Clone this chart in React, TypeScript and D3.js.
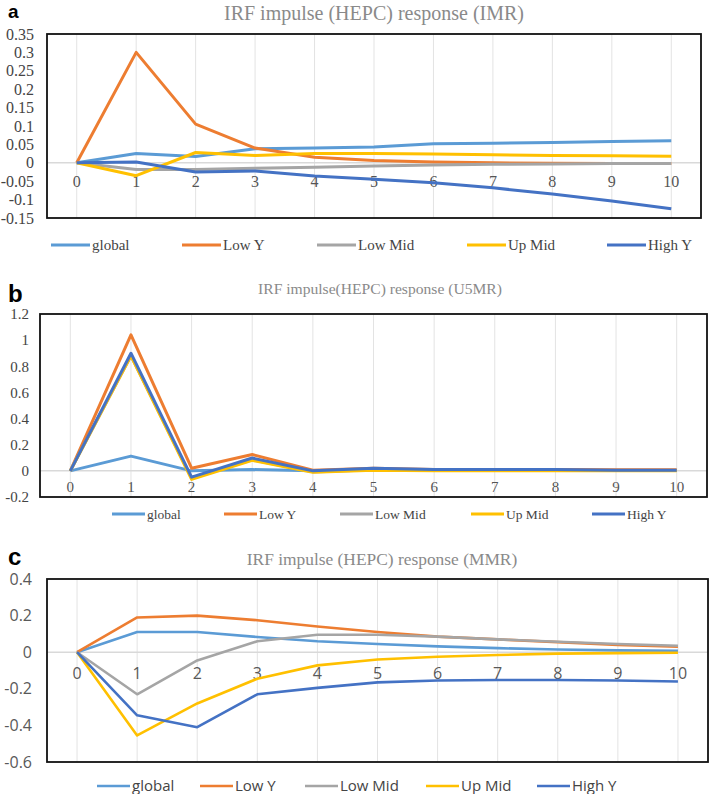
import React from "react";
import * as d3 from "d3";

const periods = ["0", "1", "2", "3", "4", "5", "6", "7", "8", "9", "10"];
const seriesNames = ["global", "Low Y", "Low Mid", "Up Mid", "High Y"];
const seriesColors = ["#5B9BD5", "#ED7D31", "#A5A5A5", "#FFC000", "#4472C4"];

// Panel a: IMR
const imrGlobal = [0, 0.025, 0.017, 0.038, 0.04, 0.043, 0.052, 0.053, 0.055, 0.058, 0.06];
const imrLowY = [0, 0.3, 0.105, 0.04, 0.015, 0.006, 0.002, 0, -0.001, -0.002, -0.002];
const imrLowMid = [0, -0.018, -0.018, -0.015, -0.012, -0.009, -0.006, -0.004, -0.003, -0.002, -0.002];
const imrUpMid = [0, -0.035, 0.028, 0.02, 0.025, 0.025, 0.024, 0.022, 0.02, 0.019, 0.018];
const imrHighY = [0, 0.002, -0.025, -0.022, -0.036, -0.045, -0.054, -0.068, -0.085, -0.104, -0.125];
const imrTicks = [0.35, 0.3, 0.25, 0.2, 0.15, 0.1, 0.05, 0, -0.05, -0.1, -0.15];

// Panel b: U5MR
const u5Global = [0, 0.113, 0.0, 0.01, 0.0, 0.005, 0.003, 0.003, 0.002, 0.002, 0.002];
const u5LowY = [0, 1.04, 0.02, 0.125, 0.005, 0.02, 0.01, 0.01, 0.01, 0.008, 0.008];
const u5LowMid = [0, 0.88, -0.055, 0.085, -0.008, 0.008, 0.003, 0.003, 0.003, 0.002, 0.002];
const u5UpMid = [0, 0.88, -0.065, 0.08, -0.01, 0.005, 0.0, 0.0, 0.0, 0.0, 0.0];
const u5HighY = [0, 0.9, -0.048, 0.098, 0.0, 0.02, 0.01, 0.01, 0.01, 0.005, 0.005];
const u5Ticks = [1.2, 1, 0.8, 0.6, 0.4, 0.2, 0, -0.2];

// Panel c: MMR
const mmrGlobal = [0, 0.11, 0.11, 0.083, 0.06, 0.045, 0.032, 0.022, 0.015, 0.01, 0.008];
const mmrLowY = [0, 0.19, 0.2, 0.175, 0.14, 0.11, 0.085, 0.07, 0.055, 0.04, 0.03];
const mmrLowMid = [0, -0.23, -0.045, 0.06, 0.095, 0.095, 0.085, 0.07, 0.057, 0.045, 0.035];
const mmrUpMid = [0, -0.455, -0.28, -0.145, -0.072, -0.04, -0.025, -0.015, -0.008, -0.005, -0.003];
const mmrHighY = [0, -0.345, -0.41, -0.23, -0.195, -0.165, -0.155, -0.152, -0.152, -0.155, -0.16];
const mmrTicks = [0.4, 0.2, 0, -0.2, -0.4, -0.6];

const SERIF = "'Liberation Serif', 'Times New Roman', serif";
const SANS = "'Open Sans', 'Liberation Sans', sans-serif";

type PanelCfg = {
  letter: string;
  letterY: number;
  letterSize: number;
  title: string;
  titleX: number;
  titleY: number;
  titleSize: number;
  titleFont: string;
  box: { x0: number; x1: number; y0: number; y1: number };
  domain: [number, number];
  ticks: number[];
  tickFont: string;
  tickSize: number;
  tickRight: number;
  xLabelDy: number;
  xLabelSize: number;
  series: number[][];
  lineWidth: number;
  legendY: number;
  legendStarts: number[];
  legendLen: number;
  legendFont: string;
  legendSize: number;
};

const panels: PanelCfg[] = [
  {
    letter: "a", letterY: 18, letterSize: 19,
    title: "IRF impulse (HEPC) response (IMR)", titleX: 374, titleY: 20, titleSize: 20, titleFont: SERIF,
    box: { x0: 47, x1: 701, y0: 34, y1: 218 },
    domain: [-0.15, 0.35], ticks: imrTicks, tickFont: SERIF, tickSize: 16, tickRight: 34,
    xLabelDy: 24, xLabelSize: 16,
    series: [imrGlobal, imrLowY, imrLowMid, imrUpMid, imrHighY], lineWidth: 3,
    legendY: 245, legendStarts: [51, 182, 317, 467, 607], legendLen: 39, legendFont: SERIF, legendSize: 15,
  },
  {
    letter: "b", letterY: 302, letterSize: 24,
    title: "IRF impulse(HEPC) response (U5MR)", titleX: 380, titleY: 294, titleSize: 15.6, titleFont: SERIF,
    box: { x0: 40, x1: 707, y0: 314, y1: 497 },
    domain: [-0.2, 1.2], ticks: u5Ticks, tickFont: SERIF, tickSize: 15, tickRight: 29,
    xLabelDy: 21, xLabelSize: 15,
    series: [u5Global, u5LowY, u5LowMid, u5UpMid, u5HighY], lineWidth: 3,
    legendY: 514, legendStarts: [112, 224, 340, 471, 592], legendLen: 33, legendFont: SERIF, legendSize: 13.5,
  },
  {
    letter: "c", letterY: 565, letterSize: 24,
    title: "IRF impulse (HEPC) response (MMR)", titleX: 382, titleY: 565, titleSize: 17.4, titleFont: SERIF,
    box: { x0: 47, x1: 708, y0: 579, y1: 762 },
    domain: [-0.6, 0.4], ticks: mmrTicks, tickFont: SANS, tickSize: 16, tickRight: 32,
    xLabelDy: 27, xLabelSize: 16,
    series: [mmrGlobal, mmrLowY, mmrLowMid, mmrUpMid, mmrHighY], lineWidth: 2.6,
    legendY: 786, legendStarts: [97, 200, 305, 426, 537], legendLen: 33, legendFont: SANS, legendSize: 15,
  },
];

function Panel({ cfg }: { cfg: PanelCfg }) {
  const { box } = cfg;
  const x = d3.scaleBand<string>().domain(periods).range([box.x0, box.x1]).padding(0);
  const cx = (p: string) => (x(p) as number) + x.bandwidth() / 2;
  const y = d3.scaleLinear().domain(cfg.domain).range([box.y1, box.y0]);
  const line = d3
    .line<number>()
    .x((_, i) => cx(periods[i]))
    .y((v) => y(v));
  const zeroY = y(0);
  const isSerif = cfg.tickFont === SERIF;
  return (
    <g>
      <text x={8} y={cfg.letterY} fontFamily="'Liberation Sans', Arial, sans-serif" fontWeight="bold" fontSize={cfg.letterSize} fill="#000">
        {cfg.letter}
      </text>
      <text x={cfg.titleX} y={cfg.titleY} textAnchor="middle" fontFamily={cfg.titleFont} fontSize={cfg.titleSize} fill="#8a8a8a">
        {cfg.title}
      </text>
      <rect x={box.x0} y={box.y0} width={box.x1 - box.x0} height={box.y1 - box.y0} fill="#fff" />
      {periods.map((p) => (
        <line key={"g" + p} x1={cx(p)} x2={cx(p)} y1={box.y0} y2={box.y1} stroke="#e3e3e3" strokeWidth={1} />
      ))}
      <line x1={box.x0} x2={box.x1} y1={zeroY} y2={zeroY} stroke="#d9d9d9" strokeWidth={1.5} />
      {cfg.ticks.map((t) => (
        <text key={"t" + t} x={cfg.tickRight} y={y(t)} dy="0.35em" textAnchor="end" fontFamily={cfg.tickFont} fontSize={cfg.tickSize} fill={isSerif ? "#444" : "#595959"}>
          {String(t)}
        </text>
      ))}
      {periods.map((p) => (
        <text key={"x" + p} x={cx(p)} y={zeroY + cfg.xLabelDy} textAnchor="middle" fontFamily={cfg.tickFont} fontSize={cfg.xLabelSize} fill={isSerif ? "#555" : "#595959"}>
          {p}
        </text>
      ))}
      {cfg.series.map((s, i) => (
        <path key={"s" + i} d={line(s) || ""} fill="none" stroke={seriesColors[i]} strokeWidth={cfg.lineWidth} strokeLinejoin="round" />
      ))}
      <rect x={box.x0} y={box.y0} width={box.x1 - box.x0} height={box.y1 - box.y0} fill="none" stroke="#111" strokeWidth={1.8} />
      {seriesNames.map((n, i) => (
        <g key={"l" + n}>
          <line x1={cfg.legendStarts[i]} x2={cfg.legendStarts[i] + cfg.legendLen} y1={cfg.legendY} y2={cfg.legendY} stroke={seriesColors[i]} strokeWidth={cfg.lineWidth} />
          <text x={cfg.legendStarts[i] + cfg.legendLen + 2} y={cfg.legendY} dy="0.35em" fontFamily={cfg.legendFont} fontSize={cfg.legendSize} fill="#444">
            {n}
          </text>
        </g>
      ))}
    </g>
  );
}

export default function App() {
  return (
    <svg width={709} height={794} style={{ position: "absolute", left: 0, top: 0, background: "#fff" }}>
      <rect x={0} y={0} width={709} height={794} fill="#fff" />
      {panels.map((p) => (
        <Panel key={p.letter} cfg={p} />
      ))}
    </svg>
  );
}
